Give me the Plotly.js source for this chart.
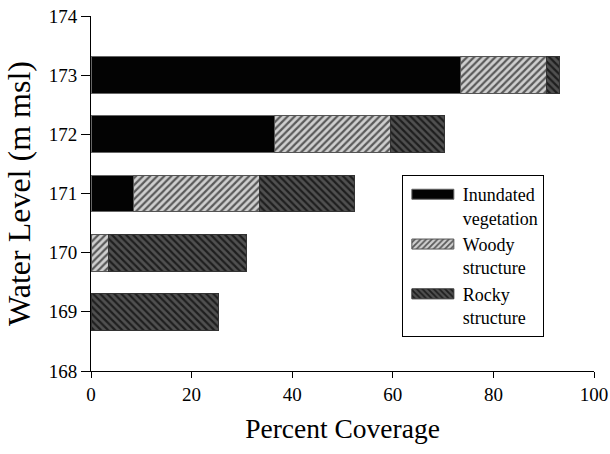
<!DOCTYPE html>
<html>
<head>
<meta charset="utf-8">
<script src="https://cdn.plot.ly/plotly-3.0.1.min.js"></script>
<style>html,body{margin:0;padding:0;background:#fff;}#chart{width:610px;height:454px;}</style>
</head>
<body>
<div id="chart"></div>
<script>
const levels = [169, 170, 171, 172, 173];
const inundated = [0, 0, 8.5, 36.4, 73.4];
const woody = [0, 3.5, 24.9, 23.1, 17.2];
const rocky = [25.3, 27.5, 19.0, 10.8, 2.5];
const seriesNames = ['Inundated<br>vegetation', 'Woody<br>structure', 'Rocky<br>structure'];
const xTicks = [0, 20, 40, 60, 80, 100];
const yTicks = [168, 169, 170, 171, 172, 173, 174];

const serif = 'Liberation Serif';
const common = {type: 'bar', orientation: 'h', y: levels, width: 0.62, hoverinfo: 'x+y'};

const traces = [
  Object.assign({}, common, {
    name: seriesNames[0], x: inundated,
    marker: {color: '#030303', line: {color: '#666', width: 1}}
  }),
  Object.assign({}, common, {
    name: seriesNames[1], x: woody,
    marker: {color: '#cfcfcf', line: {color: '#555', width: 1},
      pattern: {shape: '/', fgcolor: '#5a5a5a', bgcolor: '#cfcfcf', size: 5, solidity: 0.45}}
  }),
  Object.assign({}, common, {
    name: seriesNames[2], x: rocky,
    marker: {color: '#4a4a4a', line: {color: '#333', width: 1},
      pattern: {shape: '\\', fgcolor: '#1e1e1e', bgcolor: '#505050', size: 5, solidity: 0.45}}
  })
];

const layout = {
  width: 610, height: 454,
  margin: {l: 91, r: 16, t: 16, b: 83},
  paper_bgcolor: '#fff', plot_bgcolor: '#fff',
  barmode: 'stack',
  font: {family: serif, color: '#000', size: 19},
  showlegend: true,
  legend: {
    x: 0.618, y: 0.552, xanchor: 'left', yanchor: 'top',
    traceorder: 'normal', bordercolor: '#000', borderwidth: 1,
    bgcolor: '#fff', font: {family: serif, size: 18, color: '#000'},
    itemwidth: 50, valign: 'top'
  },
  xaxis: {
    range: [0, 100], tickvals: xTicks, ticktext: xTicks.map(String),
    showline: true, linecolor: '#000', linewidth: 1,
    ticks: 'outside', ticklen: 6, tickcolor: '#000',
    showgrid: false, zeroline: false, fixedrange: true,
    tickfont: {family: serif, size: 19, color: '#000'},
    title: {text: 'Percent Coverage', font: {family: serif, size: 27.5, color: '#000'}, standoff: 14}
  },
  yaxis: {
    range: [168, 174], tickvals: yTicks, ticktext: yTicks.map(String),
    showline: true, linecolor: '#000', linewidth: 1,
    ticks: 'outside', ticklen: 9, tickcolor: '#000',
    showgrid: false, zeroline: false, fixedrange: true,
    tickfont: {family: serif, size: 19, color: '#000'},
    title: {text: 'Water Level (m msl)', font: {family: serif, size: 32, color: '#000'}, standoff: 8}
  }
};

function widenSwatches(gd) {
  // rectangular legend keys, as in the reference
  gd.querySelectorAll('.legend .legendpoints path').forEach(function (p) {
    p.setAttribute('d', 'M-21,-5h42v10h-42z');
    p.setAttribute('transform', 'translate(30,0)');
  });
}

const gd = document.getElementById('chart');
Plotly.newPlot(gd, traces, layout, {displayModeBar: false, staticPlot: true}).then(function () {
  widenSwatches(gd);
  gd.on('plotly_afterplot', function () { widenSwatches(gd); });
  setTimeout(function () { widenSwatches(gd); }, 50);
  setTimeout(function () { widenSwatches(gd); }, 300);
});
</script>
</body>
</html>
